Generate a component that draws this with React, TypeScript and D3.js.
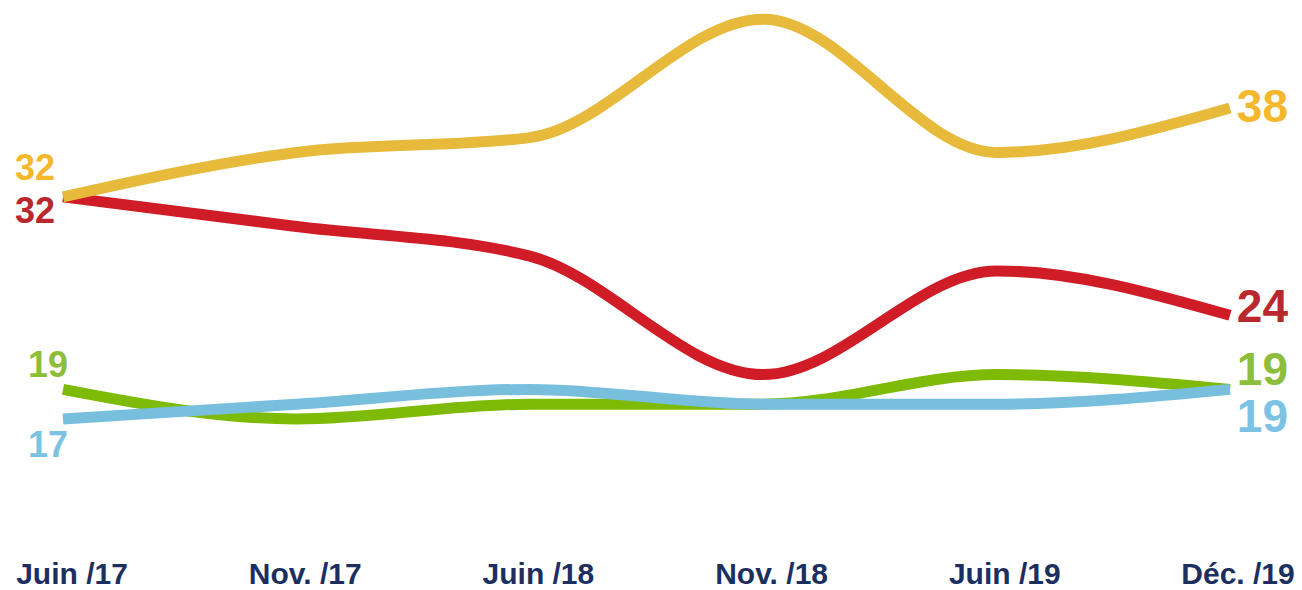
import { useRef, useEffect } from "react";
import * as d3 from "d3";

const periods = ["Juin /17", "Nov. /17", "Juin /18", "Nov. /18", "Juin /19", "Déc. /19"];

const yellowValues = [32, 35, 36, 44, 35, 38];
const redValues = [32, 30, 28, 20, 27, 24];
const greenValues = [19, 17, 18, 18, 20, 19];
const blueValues = [17, 18, 19, 18, 18, 19];

interface Series {
  key: string;
  values: number[];
  line: string;
  text: string;
}

const series: Series[] = [
  { key: "red", values: redValues, line: "#d01c26", text: "#b9282c" },
  { key: "yellow", values: yellowValues, line: "#e7ba3b", text: "#f5b72c" },
  { key: "green", values: greenValues, line: "#7dbb06", text: "#8cbe3c" },
  { key: "blue", values: blueValues, line: "#78bfdd", text: "#7cc3e3" },
];

// end label placement (baselines tuned against the reference)
const leftLabels: Record<string, { x: number; y: number }> = {
  yellow: { x: 55, y: 180 },
  red: { x: 55, y: 223 },
  green: { x: 68, y: 377 },
  blue: { x: 68, y: 457 },
};
const rightLabels: Record<string, number> = {
  yellow: 122,
  red: 322,
  green: 385,
  blue: 432,
};

export default function App() {
  const svgRef = useRef<SVGSVGElement>(null);

  useEffect(() => {
    document.body.style.margin = "0";
    if (!svgRef.current) return;
    const width = 1302;
    const height = 590;

    const svg = d3.select(svgRef.current);
    svg.selectAll("*").remove();
    svg.attr("width", width).attr("height", height);

    const x = d3.scalePoint<string>().domain(periods).range([63, 1230]);
    const xLabel = d3.scalePoint<string>().domain(periods).range([72, 1238]);
    const y = d3.scaleLinear().domain([17, 38]).range([419, 108]);

    const line = d3
      .line<number>()
      .x((_, i) => x(periods[i]) as number)
      .y((d) => y(d))
      .curve(d3.curveMonotoneX);

    svg
      .selectAll("path.series")
      .data(series)
      .join("path")
      .attr("class", "series")
      .attr("d", (d) => line(d.values))
      .attr("fill", "none")
      .attr("stroke", (d) => d.line)
      .attr("stroke-width", 11)
      .attr("stroke-linecap", "butt");

    const font = "'Liberation Sans', Arial, Helvetica, sans-serif";

    // left values
    svg
      .selectAll("text.left")
      .data(series)
      .join("text")
      .attr("class", "left")
      .attr("x", (d) => leftLabels[d.key].x)
      .attr("y", (d) => leftLabels[d.key].y)
      .attr("text-anchor", "end")
      .attr("font-family", font)
      .attr("font-weight", "bold")
      .attr("font-size", 36)
      .attr("fill", (d) => d.text)
      .text((d) => String(d.values[0]));

    // right values
    svg
      .selectAll("text.right")
      .data(series)
      .join("text")
      .attr("class", "right")
      .attr("x", 1288)
      .attr("y", (d) => rightLabels[d.key])
      .attr("text-anchor", "end")
      .attr("font-family", font)
      .attr("font-weight", "bold")
      .attr("font-size", 46)
      .attr("fill", (d) => d.text)
      .text((d) => String(d.values[d.values.length - 1]));

    // period labels
    svg
      .selectAll("text.period")
      .data(periods)
      .join("text")
      .attr("class", "period")
      .attr("x", (d) => xLabel(d) as number)
      .attr("y", 584)
      .attr("text-anchor", "middle")
      .attr("font-family", font)
      .attr("font-weight", "bold")
      .attr("font-size", 30)
      .attr("fill", "#1c2f5f")
      .text((d) => d);
  }, []);

  return <svg ref={svgRef} style={{ display: "block", background: "#fff" }} />;
}
